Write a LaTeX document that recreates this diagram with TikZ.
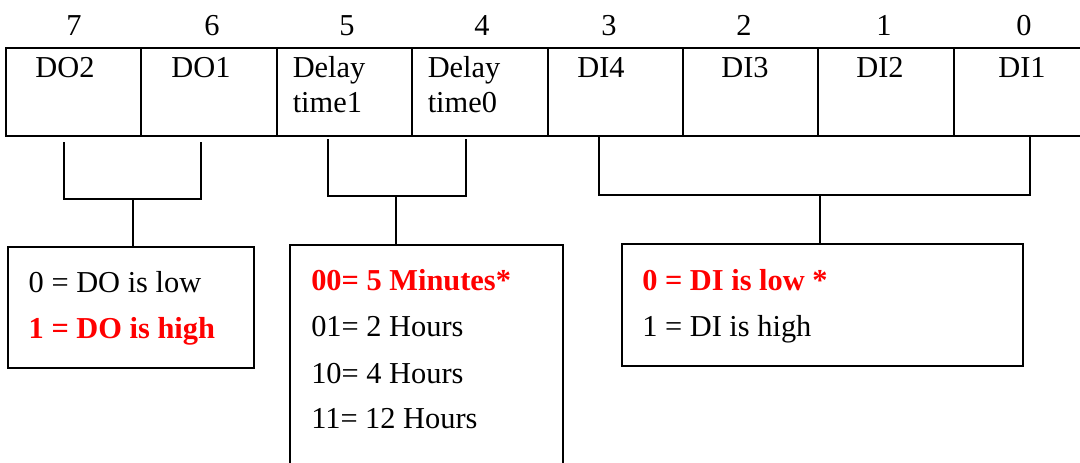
\documentclass[tikz,border=0pt]{standalone}
\usepackage{fontspec}
\setmainfont{Liberation Serif}
\begin{document}
\begin{tikzpicture}[x=0.5pt,y=-0.5pt,line width=0.75pt,
  cell/.style={draw,line width=1pt,minimum height=44pt,inner sep=0pt,outer sep=0pt,anchor=north west},
  box/.style={draw,line width=0.8pt,inner sep=0pt,outer sep=0pt,anchor=north west},
  tf/.style={inner sep=0pt,font=\fontsize{15.2}{18}\selectfont},
  txt/.style={tf,anchor=base west},
  ctxt/.style={tf,anchor=base},
  hi/.style={txt,text=red,font=\bfseries\fontsize{15.2}{18}\selectfont}]
\useasboundingbox (0,0) rectangle (1080,462);
% register cells
\foreach \i/\x/\w in {7/6/135,6/141/136,5/277/135,4/412/136,3/548/135,2/683/135,1/818/136,0/954/135}
  \node[cell,minimum width=\w*0.5pt] (c\i) at (\x,48) {};
% bit numbers
\node[ctxt] (n7) at (74,35) {7};
\node[ctxt] (n6) at (212,35) {6};
\node[ctxt] (n5) at (347,35) {5};
\node[ctxt] (n4) at (482,35) {4};
\node[ctxt] (n3) at (609,35) {3};
\node[ctxt] (n2) at (744,35) {2};
\node[ctxt] (n1) at (884,35) {1};
\node[ctxt] (n0) at (1024,35) {0};
% cell labels
\node[ctxt] (l7) at (65,77) {DO2};
\node[ctxt] (l6) at (201,77) {DO1};
\node[txt] (l5a) at (292,77) {Delay};
\node[txt] (l5b) at (292,112) {time1};
\node[txt] (l4a) at (427,77) {Delay};
\node[txt] (l4b) at (427,112) {time0};
\node[ctxt] (l3) at (601,77) {DI4};
\node[ctxt] (l2) at (745,77) {DI3};
\node[ctxt] (l1) at (880,77) {DI2};
\node[ctxt] (l0) at (1022,77) {DI1};
% description boxes
\node[box,minimum width=123pt,minimum height=60.5pt] (bo) at (8,247) {};
\node[box,minimum width=136.5pt,minimum height=130pt] (bd) at (290,245) {};
\node[box,minimum width=200.5pt,minimum height=61pt] (bi) at (622,244) {};
% brackets
\coordinate (a1) at (64,142);
\coordinate (a2) at (201,142);
\coordinate (ja) at (133,199);
\draw (a1) |- (ja) -| (a2);
\draw (ja) -- (ja |- bo.north);
\coordinate (d1) at (328,139);
\coordinate (d2) at (466,139);
\coordinate (jd) at (396,196);
\draw (d1) |- (jd) -| (d2);
\draw (jd) -- (jd |- bd.north);
\coordinate (i1) at (599,137);
\coordinate (i2) at (1030,137);
\coordinate (ji) at (820,195);
\draw (i1) |- (ji) -| (i2);
\draw (ji) -- (ji |- bi.north);
% box texts
\node[txt] (t1) at (28,292) {0 = DO is low};
\node[hi] (t2) at (28,338) {1 = DO is high};
\node[hi] (t3) at (310.5,290) {00= 5 Minutes*};
\node[txt] (t4) at (310.5,336) {01= 2 Hours};
\node[txt] (t5) at (310.5,383) {10= 4 Hours};
\node[txt] (t6) at (310.5,428) {11= 12 Hours};
\node[hi] (t7) at (641.5,290) {0 = DI is low *};
\node[txt] (t8) at (641.5,336) {1 = DI is high};
\end{tikzpicture}
\end{document}
